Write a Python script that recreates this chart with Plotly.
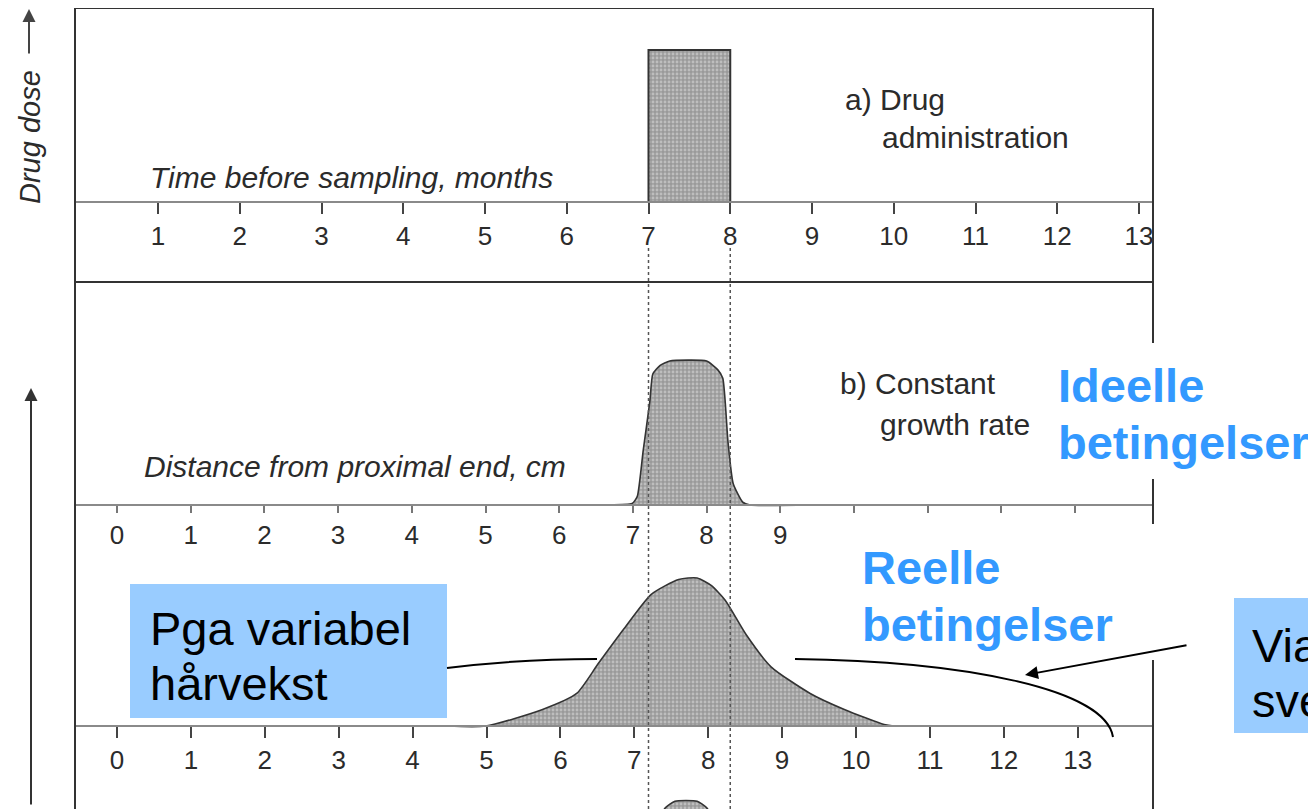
import plotly.graph_objects as go

# page body has an 8px margin: figure is placed at (8, 8) in the 1316x809 window
OX, OY = 8, 8
W, H = 1316 - OX, 809 - OY

# ---------------- data ----------------
month_ticks = list(range(1, 14))
dose_time = [7, 7, 8, 8]
dose_value = [0, 1, 1, 0]

cm_ticks = list(range(0, 14))
cm_labels_b = [str(i) if i <= 9 else "" for i in cm_ticks]
cm_labels_c = [str(i) for i in cm_ticks]

ideal_cm = [4.0, 6.6, 6.99, 7.06, 7.14, 7.23, 7.27, 7.37, 7.50, 8.00, 8.15, 8.22, 8.29, 8.36, 8.49, 8.59, 9.4]
ideal_level = [0, 0, 0.01, 0.06, 0.38, 0.72, 0.91, 0.97, 1.0, 1.0, 0.94, 0.88, 0.44, 0.15, 0.02, 0, 0]

real_cm = [4.47, 4.99, 5.75, 6.22, 6.51, 6.85, 7.23, 7.60, 7.85, 8.04, 8.23, 8.51, 8.85, 9.38, 9.85, 10.38, 10.51, 11.47]
real_level = [0, 0, 0.11, 0.22, 0.42, 0.65, 0.89, 0.99, 1.0, 0.95, 0.85, 0.62, 0.40, 0.22, 0.11, 0.01, 0, 0]

next_cm = [7.1, 7.3, 7.42, 7.55, 7.85, 7.98, 8.1, 8.3]
next_level = [0, 0.9, 0.97, 1.0, 1.0, 0.97, 0.9, 0]


def px(x):
    return (x - OX) / W


def py(y):
    return 1 - (y - OY) / H


FONT = "Liberation Sans, Arial, Helvetica, sans-serif"
TXT = "#2b2b2b"
pattern = dict(shape=".", bgcolor="#9a9a9a", fgcolor="#e2e2e2", size=4, solidity=0.4)

fig = go.Figure()

fig.add_trace(go.Scatter(x=dose_time, y=dose_value, mode="lines", fill="toself",
                         line=dict(color="#333", width=2), fillpattern=pattern,
                         xaxis="x", yaxis="y", hoverinfo="skip"))
fig.add_trace(go.Scatter(x=ideal_cm, y=ideal_level, mode="lines", fill="tozeroy",
                         line=dict(color="#333", width=1.6, shape="spline", smoothing=0.5),
                         fillpattern=pattern, xaxis="x2", yaxis="y2", hoverinfo="skip"))
fig.add_trace(go.Scatter(x=real_cm, y=real_level, mode="lines", fill="tozeroy",
                         line=dict(color="#333", width=1.6, shape="spline", smoothing=0.6),
                         fillpattern=pattern, xaxis="x3", yaxis="y3", hoverinfo="skip"))
fig.add_trace(go.Scatter(x=next_cm, y=next_level, mode="lines", fill="tozeroy",
                         line=dict(color="#333", width=1.6, shape="spline", smoothing=0.5),
                         fillpattern=pattern, xaxis="x3", yaxis="y4", hoverinfo="skip"))

xdom = [px(75), px(1153)]
axis_common = dict(showgrid=False, zeroline=False, showline=True, linecolor="#8a8a8a",
                   linewidth=2, ticks="outside", ticklen=11, tickwidth=2, tickcolor="#444",
                   tickfont=dict(family=FONT, size=26, color=TXT), anchor="free", domain=xdom)

# panel a: 1 month = 81.75 px, month 1 at px 158
sa = 81.75
ra0 = 1 - (158 - 75) / sa
fig.update_layout(
    xaxis=dict(**axis_common, range=[ra0, ra0 + 1078 / sa], position=py(202),
               tickmode="array", tickvals=month_ticks, ticktext=[str(m) for m in month_ticks]),
    yaxis=dict(domain=[py(282), py(8)], range=[-(282 - 202) / 152, (202 - 8) / 152],
               visible=False, anchor="x"),
)
# panel b: 1 cm = 73.7 px, 0 at px 117
sb = 73.7
rb0 = -(117 - 75) / sb
fig.update_layout(
    xaxis2=dict(**axis_common, range=[rb0, rb0 + 1078 / sb], position=py(505),
                tickmode="array", tickvals=cm_ticks, ticktext=cm_labels_b),
    yaxis2=dict(domain=[py(560), py(282)], range=[-(560 - 505) / 144, (505 - 282) / 144],
                visible=False, anchor="x2"),
)
fig.update_xaxes(selector=dict(anchor="free"))
# panel c: 1 cm = 73.9 px
sc = 73.9
rc0 = -(117 - 75) / sc
fig.update_layout(
    xaxis3=dict(**axis_common, range=[rc0, rc0 + 1078 / sc], position=py(726),
                tickmode="array", tickvals=cm_ticks, ticktext=cm_labels_c),
    yaxis3=dict(domain=[0, py(560)], range=[-(809 - 726) / 148, (726 - 560) / 148],
                visible=False, anchor="x3"),
    yaxis4=dict(domain=[0, 19 / H], range=[0.965, 1.05], visible=False, anchor="x3"),
)
fig.layout.xaxis2.ticklen = 7
fig.layout.xaxis2.tickcolor = "#777"

shapes = []
frame = dict(color="#333", width=2)
shapes.append(dict(type="line", xref="paper", yref="paper", x0=px(75), x1=px(75), y0=py(8), y1=0, line=frame))
shapes.append(dict(type="line", xref="paper", yref="paper", x0=px(75), x1=px(1153), y0=py(8), y1=py(8), line=frame))
shapes.append(dict(type="line", xref="paper", yref="paper", x0=px(75), x1=px(1153), y0=py(282), y1=py(282), line=frame))
for a, b in [(8, 343), (479, 524), (660, 809)]:
    shapes.append(dict(type="line", xref="paper", yref="paper", x0=px(1153), x1=px(1153),
                       y0=py(a), y1=py(b), line=frame))
for m in [7, 8]:
    shapes.append(dict(type="line", xref="x", yref="paper", x0=m, x1=m, y0=py(248), y1=0,
                       line=dict(color="#555", width=1.5, dash="dot")))
shapes.append(dict(type="rect", xref="paper", yref="paper", x0=px(130), x1=px(447), y0=py(718), y1=py(584),
                   fillcolor="#99CCFF", line=dict(width=0)))
shapes.append(dict(type="rect", xref="paper", yref="paper", x0=px(1234), x1=px(1330), y0=py(733), y1=py(598),
                   fillcolor="#99CCFF", line=dict(width=0)))


def path_px(points_cmd):
    out = []
    for item in points_cmd:
        if isinstance(item, str):
            out.append(item)
        else:
            out.append(f"{px(item[0]):.5f},{py(item[1]):.5f}")
    return " ".join(out)


shapes.append(dict(type="path", xref="paper", yref="paper",
                   path=path_px(["M", (447, 668), "Q", (520, 659), (597, 659)]),
                   line=dict(color="black", width=2)))
shapes.append(dict(type="path", xref="paper", yref="paper",
                   path=path_px(["M", (795, 659), "C", (960, 661), (1105, 688), (1113, 737)]),
                   line=dict(color="black", width=2)))

ann = []


def text(x, y, s, size, color=TXT, bold=False, italic=False, anchor="left", angle=0):
    t = s
    if bold:
        t = f"<b>{t}</b>"
    if italic:
        t = f"<i>{t}</i>"
    ann.append(dict(x=px(x), y=py(y), xref="paper", yref="paper", text=t, showarrow=False,
                    xanchor=anchor, yanchor="middle", textangle=angle,
                    font=dict(family=FONT, size=size, color=color)))


text(148, 178, "Time before sampling, months", 30, italic=True)
text(142, 467, "Distance from proximal end, cm", 30, italic=True)
text(843, 99, "a) Drug", 30)
text(880, 138, "administration", 30)
text(838, 383, "b) Constant", 30)
text(878, 424, "growth rate", 30)
text(30, 137, "Drug dose", 29, italic=True, anchor="center", angle=-90)

BLUE = "#3399FF"
text(1056, 385, "Ideelle", 47, color=BLUE, bold=True)
text(1056, 442, "betingelser", 47, color=BLUE, bold=True)
text(860, 567, "Reelle", 47, color=BLUE, bold=True)
text(860, 624, "betingelser", 47, color=BLUE, bold=True)

text(148, 628, "Pga variabel", 47, color="black")
text(148, 683, "hårvekst", 47, color="black")
text(1250, 645, "Via", 47, color="black")
text(1250, 700, "svette", 47, color="black")

ann.append(dict(x=px(29), y=py(9), xref="paper", yref="paper", text="", showarrow=True,
                ax=0, ay=46, axref="pixel", ayref="pixel", arrowhead=2, arrowsize=1.3,
                arrowwidth=2, arrowcolor="#444"))
ann.append(dict(x=px(31), y=py(388), xref="paper", yref="paper", text="", showarrow=True,
                ax=0, ay=418, axref="pixel", ayref="pixel", arrowhead=2, arrowsize=1.3,
                arrowwidth=2, arrowcolor="#333"))
ann.append(dict(x=px(1025), y=py(675), xref="paper", yref="paper", text="", showarrow=True,
                ax=163, ay=-30, axref="pixel", ayref="pixel", arrowhead=2, arrowsize=1.3,
                arrowwidth=2, arrowcolor="black"))

fig.update_layout(
    width=W, height=H, margin=dict(l=0, r=0, t=0, b=0),
    paper_bgcolor="white", plot_bgcolor="rgba(0,0,0,0)",
    showlegend=False, shapes=shapes, annotations=ann,
)

fig.write_html("out.html", config={"displayModeBar": False})
